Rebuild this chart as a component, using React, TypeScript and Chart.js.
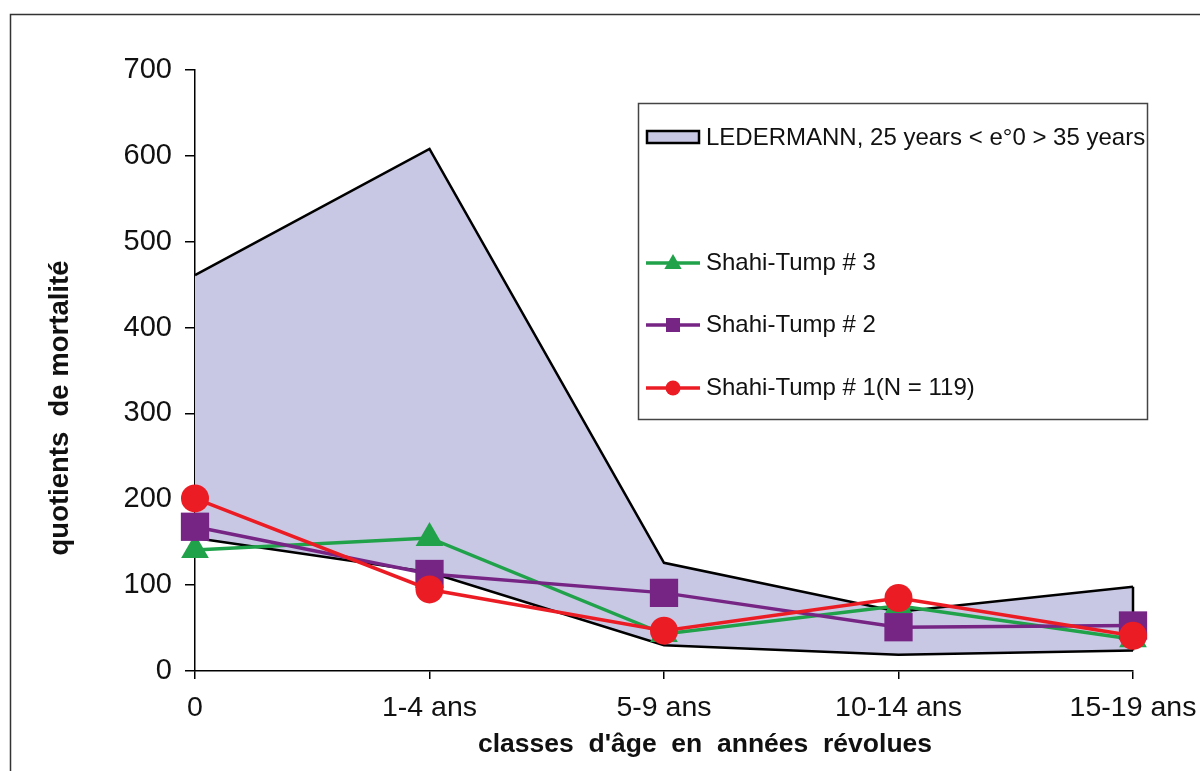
import React, { useEffect, useRef } from "react";
import { Chart, registerables } from "chart.js";

Chart.register(...registerables);

const categories = ["0", "1-4 ans", "5-9 ans", "10-14 ans", "15-19 ans"];
const ledermannUpper = [461, 608, 126, 69, 98];
const ledermannLower = [155, 115, 30, 19, 24];
const shahiTump3 = [141, 155, 43, 76, 37];
const shahiTump2 = [168, 113, 91, 51, 53];
const shahiTump1 = [201, 95, 47, 85, 41];

const ledermannLabel = "LEDERMANN, 25 years < e°0 > 35 years";
const seriesLabels = ["Shahi-Tump # 3", "Shahi-Tump # 2", "Shahi-Tump # 1(N = 119)"];
const yTitle = "quotients  de mortalité";
const xTitle = "classes  d'âge  en  années  révolues";

const FONT = "'Liberation Sans', Arial, sans-serif";
const GREEN = "#20A24A";
const PURPLE = "#762585";
const RED = "#EC1C24";
const LAVENDER = "#C9C8E4";

const pts = (arr: number[]) => arr.map((y, i) => ({ x: i, y }));

function drawTriangle(ctx: CanvasRenderingContext2D, x: number, y: number, r: number) {
  ctx.beginPath();
  ctx.moveTo(x, y - r);
  ctx.lineTo(x + r * 0.866, y + r * 0.5);
  ctx.lineTo(x - r * 0.866, y + r * 0.5);
  ctx.closePath();
  ctx.fill();
}

const decorPlugin = {
  id: "decor",
  beforeDraw(chart: any) {
    const ctx = chart.ctx as CanvasRenderingContext2D;
    ctx.save();
    ctx.fillStyle = "#fff";
    ctx.fillRect(0, 0, chart.width, chart.height);
    ctx.strokeStyle = "#333";
    ctx.lineWidth = 1.5;
    ctx.beginPath();
    ctx.moveTo(10.5, chart.height);
    ctx.lineTo(10.5, 14.5);
    ctx.lineTo(chart.width, 14.5);
    ctx.stroke();
    ctx.restore();
  },
  afterDraw(chart: any) {
    const ctx = chart.ctx as CanvasRenderingContext2D;
    ctx.save();
    // axis titles
    ctx.fillStyle = "#111";
    ctx.textAlign = "center";
    ctx.textBaseline = "middle";
    ctx.font = `bold 26.5px ${FONT}`;
    ctx.fillText(xTitle, 705, 745);
    ctx.save();
    ctx.translate(60, 408);
    ctx.rotate(-Math.PI / 2);
    ctx.font = `bold 27.5px ${FONT}`;
    ctx.fillText(yTitle, 0, 0);
    ctx.restore();

    // legend box
    ctx.fillStyle = "#fff";
    ctx.fillRect(638, 103, 509, 316);
    ctx.strokeStyle = "#444";
    ctx.lineWidth = 1.5;
    ctx.strokeRect(638.5, 103.5, 509, 316);

    // ledermann swatch
    ctx.fillStyle = LAVENDER;
    ctx.fillRect(647, 131, 52, 12);
    ctx.strokeStyle = "#000";
    ctx.lineWidth = 2.5;
    ctx.strokeRect(647, 131, 52, 12);

    ctx.font = `24px ${FONT}`;
    ctx.textAlign = "left";
    ctx.fillStyle = "#111";
    ctx.fillText(ledermannLabel, 706, 138);

    const items = [
      { y: 263, color: GREEN, shape: "tri" },
      { y: 325, color: PURPLE, shape: "rect" },
      { y: 388, color: RED, shape: "circle" },
    ];
    items.forEach((it, i) => {
      ctx.strokeStyle = it.color;
      ctx.fillStyle = it.color;
      ctx.lineWidth = 3.5;
      ctx.beginPath();
      ctx.moveTo(646, it.y);
      ctx.lineTo(700, it.y);
      ctx.stroke();
      if (it.shape === "tri") drawTriangle(ctx, 673, it.y + 1, 10);
      else if (it.shape === "rect") ctx.fillRect(666, it.y - 7, 14, 14);
      else {
        ctx.beginPath();
        ctx.arc(673, it.y, 7.5, 0, Math.PI * 2);
        ctx.fill();
      }
      ctx.fillStyle = "#111";
      ctx.fillText(seriesLabels[i], 706, it.y);
    });
    ctx.restore();
  },
};

export default function App() {
  const ref = useRef<HTMLCanvasElement>(null);
  useEffect(() => {
    document.body.style.margin = "0";
    const canvas = ref.current!;
    const chart = new Chart(canvas, {
      type: "line",
      data: {
        datasets: [
          {
            label: "upper",
            data: pts(ledermannUpper),
            borderColor: "#000",
            borderWidth: 2.5,
            backgroundColor: LAVENDER,
            fill: "+1",
            pointRadius: 0,
            tension: 0,
            order: 10,
          },
          {
            label: "lower",
            data: pts(ledermannLower),
            borderColor: "#000",
            borderWidth: 2.5,
            fill: false,
            pointRadius: 0,
            tension: 0,
            order: 9,
          },
          {
            label: "edge",
            data: [
              { x: categories.length - 1, y: ledermannUpper[ledermannUpper.length - 1] },
              { x: categories.length - 1, y: ledermannLower[ledermannLower.length - 1] },
            ],
            borderColor: "#000",
            borderWidth: 2.5,
            fill: false,
            pointRadius: 0,
            order: 8,
          },
          {
            label: seriesLabels[0],
            data: pts(shahiTump3),
            borderColor: GREEN,
            backgroundColor: GREEN,
            borderWidth: 3.5,
            pointStyle: "triangle",
            pointRadius: 16,
            pointBorderWidth: 0,
            fill: false,
            tension: 0,
            order: 3,
          },
          {
            label: seriesLabels[1],
            data: pts(shahiTump2),
            borderColor: PURPLE,
            backgroundColor: PURPLE,
            borderWidth: 3.5,
            pointStyle: "rect",
            pointRadius: 20,
            pointBorderWidth: 0,
            fill: false,
            tension: 0,
            order: 2,
          },
          {
            label: seriesLabels[2],
            data: pts(shahiTump1),
            borderColor: RED,
            backgroundColor: RED,
            borderWidth: 3.5,
            pointStyle: "circle",
            pointRadius: 14,
            pointBorderWidth: 0,
            fill: false,
            tension: 0,
            order: 1,
          },
        ],
      },
      options: {
        responsive: false,
        animation: false,
        clip: false as any,
        layout: { padding: { left: 0, top: 70, right: 67, bottom: 0 } },
        plugins: {
          legend: { display: false },
          tooltip: { enabled: false },
        },
        scales: {
          x: {
            type: "linear",
            min: 0,
            max: categories.length - 1,
            afterFit: (s: any) => {
              s.height = 100;
              s.paddingLeft = 0;
              s.paddingRight = 0;
            },
            border: { display: true, color: "#000", width: 1.5 },
            grid: { drawOnChartArea: false, drawTicks: true, tickLength: 8, color: "#000", lineWidth: 1.5 },
            ticks: {
              stepSize: 1,
              autoSkip: false,
              maxRotation: 0,
              padding: 12,
              color: "#111",
              font: { family: FONT, size: 28.5 },
              callback: (v: any) => categories[v] ?? "",
            },
          },
          y: {
            min: 0,
            max: 700,
            afterFit: (s: any) => {
              s.width = 195;
              s.paddingTop = 0;
              s.paddingBottom = 0;
            },
            border: { display: true, color: "#000", width: 1.5 },
            grid: { drawOnChartArea: false, drawTicks: true, tickLength: 10, color: "#000", lineWidth: 1.5 },
            ticks: {
              stepSize: 100,
              padding: 13,
              color: "#111",
              font: { family: FONT, size: 29 },
            },
          },
        },
      },
      plugins: [decorPlugin],
    });
    return () => chart.destroy();
  }, []);
  return <canvas ref={ref} width={1200} height={771} style={{ display: "block" }} />;
}
